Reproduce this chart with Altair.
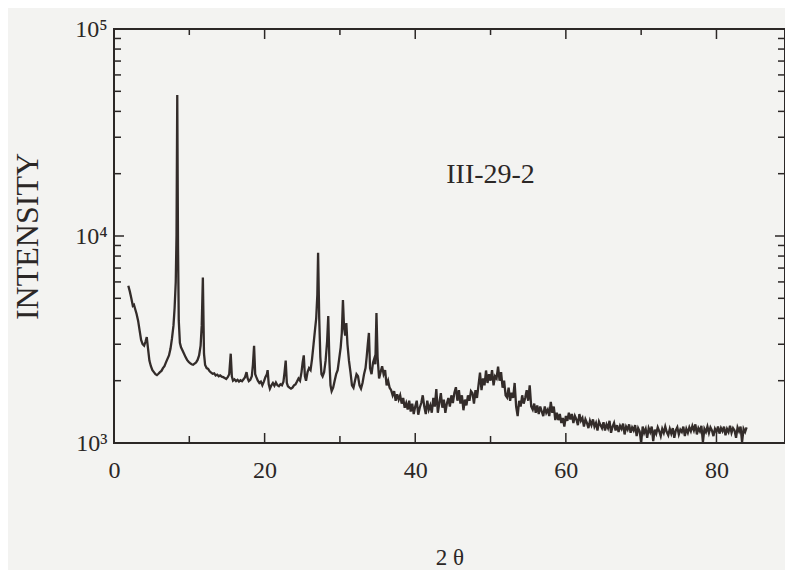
import altair as alt
import pandas as pd

# ---- data ----
two_theta_a = [
    1.9, 2.1, 2.3, 2.5, 2.65, 2.8, 3.0, 3.2, 3.4, 3.6, 3.8, 4.0, 4.2, 4.35, 4.5, 4.7, 4.9,
    5.1, 5.3, 5.5, 5.7, 5.9, 6.1, 6.3, 6.5, 6.7, 6.9, 7.1, 7.3, 7.5, 7.7, 7.9, 8.05, 8.2,
    8.3, 8.4, 8.5, 8.6, 8.75, 8.9, 9.1, 9.3, 9.5, 9.7, 9.9, 10.1, 10.3, 10.5, 10.7, 10.9,
    11.1, 11.3, 11.5, 11.65, 11.8, 11.95, 12.1, 12.3, 12.5, 12.7, 12.9, 13.1, 13.3, 13.5,
    13.7, 13.9, 14.1, 14.3, 14.5, 14.7, 14.9, 15.1, 15.3, 15.5, 15.65, 15.8, 16.0, 16.2,
    16.4, 16.6, 16.8, 17.0, 17.2, 17.4, 17.6, 17.75, 17.9, 18.1, 18.3, 18.45, 18.6, 18.75,
    18.9, 19.1, 19.3, 19.5, 19.7, 19.9, 20.1, 20.3, 20.4, 20.55, 20.7, 20.9, 21.1, 21.3,
    21.5, 21.7, 21.9, 22.1, 22.3, 22.5, 22.65, 22.8, 22.95, 23.1, 23.3, 23.5, 23.7, 23.9,
    24.1, 24.3, 24.5, 24.7, 24.9, 25.05, 25.2, 25.35, 25.5, 25.7, 25.9, 26.1, 26.3, 26.5,
    26.7, 26.85, 27.0, 27.1, 27.25, 27.4, 27.55, 27.7, 27.9, 28.1, 28.3, 28.45, 28.6, 28.75,
    28.9, 29.1, 29.3, 29.5, 29.7, 29.9, 30.1, 30.25, 30.4, 30.55, 30.7, 30.85, 31.0, 31.2,
    31.4, 31.6, 31.8, 32.0, 32.2, 32.4, 32.6, 32.8, 33.0, 33.2, 33.4, 33.55, 33.7, 33.85,
    34.0, 34.2, 34.4, 34.55, 34.7, 34.85, 35.0, 35.2, 35.4, 35.6, 35.8, 36.0, 36.2, 36.4,
    36.6, 36.8, 37.0, 37.2, 37.4, 37.6, 37.8, 38.0, 38.2, 38.4, 38.6, 38.8,
]
intensity_a = [
    5750, 5400, 5000, 4600, 4650, 4450, 4200, 3900, 3500, 3150, 3000, 2950, 3100, 3250, 2900, 2500, 2350,
    2250, 2200, 2150, 2130, 2160, 2200, 2230, 2300, 2350, 2450, 2550, 2650, 2850, 3200, 3700, 4500, 6000,
    10000, 48000, 9000, 3900, 3050, 2900, 2800, 2700, 2600, 2520, 2470, 2430, 2400, 2390, 2420, 2450,
    2520, 2650, 2950, 3700, 6300, 2700, 2380, 2300, 2280, 2220, 2190, 2160, 2170, 2120,
    2140, 2100, 2120, 2090, 2080, 2060, 2040, 2080, 2150, 2700, 2100, 2000, 2030, 1990,
    2020, 1980, 2010, 1990, 2030, 2080, 2200, 2050, 1990, 2020, 2100, 2400, 2950, 2150,
    2080, 2000, 1950, 1980, 1900, 1980, 2080, 2150, 2250, 1920, 1830, 1900, 1950, 1890,
    1960, 1900, 1880, 1920, 1900, 1980, 2200, 2500, 1950, 1880, 1850, 1830, 1850, 1900,
    1920, 1980, 2050, 2000, 2200, 2450, 2650, 2100, 2000, 2200, 2300, 2250, 2550, 3000,
    3550, 4000, 5200, 8300, 4000, 2600, 2150, 2100, 2200, 2500, 3100, 4100, 2500, 1900,
    1780, 1850, 2000, 2150, 2250, 2550, 2900, 3400, 4900, 3600, 3300, 3800, 3000, 2500,
    2200, 1900, 1850, 2000, 2150, 2100, 1900, 1830, 1950, 2150, 2300, 2600, 3000, 3400,
    2300, 2150, 2450, 2550, 2400, 4250, 2600, 2050, 2200, 2350, 2150, 2250, 1900, 2000,
    1850, 1800, 1700, 1780, 1600, 1720, 1620, 1700, 1550, 1650, 1480, 1560,
]

# noisy part of the scan, one reading every 0.2 degrees from 39.0 to 84.0
noise_start = 39.0
noise_step = 0.2
intensity_b = [
    1450, 1600, 1420, 1550, 1380, 1500, 1600, 1370, 1480, 1560,
    1700, 1500, 1380, 1600, 1450, 1520, 1400, 1650, 1500, 1820,
    1400, 1560, 1740, 1480, 1620, 1400, 1550, 1650, 1500, 1700,
    1560, 1750, 1860, 1600, 1800, 1550, 1700, 1440, 1620, 1520,
    1700, 1600, 1780, 1740, 1550, 1800, 1650, 1900, 2190, 1800,
    2050, 1900, 2240, 1950, 2150, 2000, 2250, 1900, 2100, 2050,
    2340, 2000, 2200, 1850, 2000, 1700, 1660, 1850, 1600, 1750,
    1650, 1950, 1500, 1350, 1600, 1500, 1700, 1550, 1650, 1800,
    1600, 1900, 1500, 1450, 1550, 1400, 1520, 1380, 1500, 1420,
    1350, 1500, 1400, 1450, 1350, 1580, 1400, 1500, 1290, 1400,
    1290, 1380, 1250, 1320, 1200, 1350, 1280, 1400, 1300, 1380,
    1250, 1350, 1300, 1220, 1380, 1280, 1320, 1200, 1300, 1250,
    1180, 1280, 1220, 1300, 1200, 1250, 1150, 1270, 1220, 1180,
    1260, 1150, 1230, 1180, 1280, 1120, 1200, 1250, 1150, 1220,
    1130, 1210, 1170, 1240, 1100, 1200, 1160, 1230, 1120, 1190,
    1150, 1220, 1080, 1180, 1140, 1000, 1200, 1120, 1170, 1060,
    1180, 1130, 1200, 1020, 1160, 1110, 1190, 1140, 1080, 1170,
    1120, 1200, 1130, 1090, 1170, 1110, 1180, 1060, 1150, 1190,
    1100, 1160, 1130, 1200, 1080, 1170, 1120, 1190, 1140, 1210,
    1150, 1230, 1100, 1180, 1140, 1210, 1010, 1170, 1130, 1200,
    1120, 1190, 1150, 1080, 1170, 1130, 1200, 1110, 1180, 1140,
    1200, 1090, 1170, 1130, 1210, 1120, 1180, 1150, 1060, 1190,
    1140, 1200, 1010, 1170, 1130, 1190,
]
two_theta_b = [round(noise_start + i * noise_step, 2) for i in range(len(intensity_b))]

x_domain = [0, 89.1]
x_label_values = [0, 20, 40, 60, 80]
x_major_ticks = [20, 40, 60, 80]
x_minor_ticks = [10, 30, 50, 70]
y_domain = [1000, 100000]
y_label_values = [1000, 10000, 100000]
y_major_ticks = [10000]
y_minor_ticks = [2000, 3000, 4000, 5000, 6000, 7000, 8000, 9000,
                 20000, 30000, 40000, 50000, 60000, 70000, 80000, 90000]
sample_label = "III-29-2"
sample_pos = (50, 19700)

# ---- chart ----
W, H = 671, 414
FONT = "Liberation Serif"
INK = "#2b2726"
LINE = "#332c2a"

df = pd.DataFrame({"tt": two_theta_a + two_theta_b, "I": intensity_a + intensity_b})
xs = alt.Scale(domain=x_domain, nice=False, zero=False)
ys = alt.Scale(type="log", domain=y_domain, nice=False)

x_axis = alt.Axis(
    values=x_label_values, ticks=False, domain=False, grid=False, labelFlush=False,
    labelFont=FONT, labelFontSize=24, labelColor=INK, labelPadding=15,
    title="2 θ", titleFont=FONT, titleFontSize=23, titleFontWeight="normal",
    titleColor=INK, titlePadding=64)
y_axis = alt.Axis(
    values=y_label_values, ticks=False, domain=False, grid=False, labelFlush=False,
    labelExpr="datum.value == 1000 ? '10³' : datum.value == 10000 ? '10⁴' : '10⁵'",
    labelFont=FONT, labelFontSize=24, labelColor=INK, labelPadding=7,
    title="INTENSITY", titleFont=FONT, titleFontSize=32, titleFontWeight="normal",
    titleColor=INK, titlePadding=30)

line = alt.Chart(df).mark_line(color=LINE, strokeWidth=2.3, clip=True).encode(
    x=alt.X("tt:Q", scale=xs, axis=x_axis),
    y=alt.Y("I:Q", scale=ys, axis=y_axis),
)


def xticks(vals, y0, y1):
    return alt.Chart(pd.DataFrame({"tt": vals})).mark_rule(color=INK, strokeWidth=1.5).encode(
        x=alt.X("tt:Q", scale=xs, axis=x_axis), y=alt.value(y0), y2=alt.value(y1))


def yticks(vals, x0, x1):
    return alt.Chart(pd.DataFrame({"I": vals})).mark_rule(color=INK, strokeWidth=1.5).encode(
        y=alt.Y("I:Q", scale=ys, axis=y_axis), x=alt.value(x0), x2=alt.value(x1))


label = alt.Chart(pd.DataFrame({"tt": [sample_pos[0]], "I": [sample_pos[1]], "t": [sample_label]})).mark_text(
    font=FONT, fontSize=28, color=INK, align="center", baseline="middle").encode(
    x=alt.X("tt:Q", scale=xs, axis=x_axis), y=alt.Y("I:Q", scale=ys, axis=y_axis), text="t:N")

chart = alt.layer(
    line,
    xticks(x_major_ticks, H, H - 10), xticks(x_minor_ticks, H, H - 7),
    xticks(x_major_ticks, 0, 10), xticks(x_minor_ticks, 0, 6),
    yticks(y_major_ticks, 0, 10), yticks(y_minor_ticks, 0, 7),
    yticks(y_major_ticks, W, W - 10), yticks(y_minor_ticks, W, W - 7),
    label,
).properties(
    width=W, height=H,
    autosize=alt.AutoSizeParams(type="none"),
    padding={"left": 106, "top": 21, "right": 0, "bottom": 127},
    background="#f3f3f1",
).configure_view(stroke=INK, strokeWidth=2)

chart.save("out.html", embed_options={"renderer": "svg", "actions": False})
